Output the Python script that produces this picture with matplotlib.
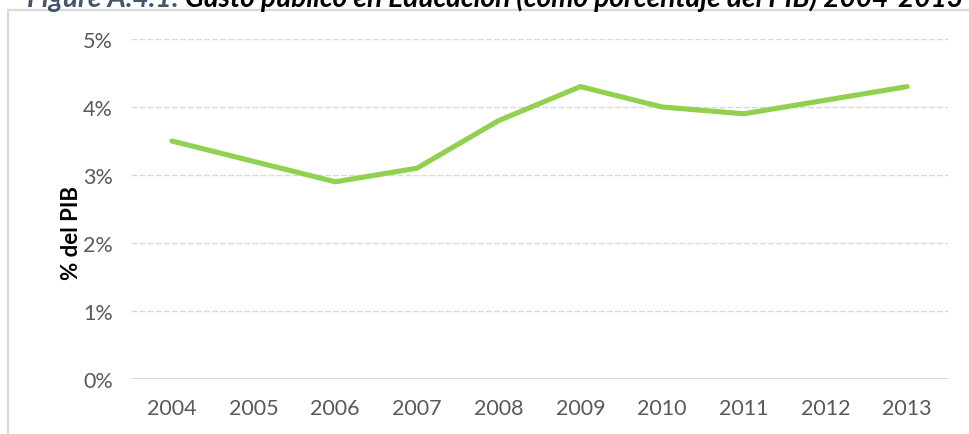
import matplotlib
matplotlib.use("Agg")
import matplotlib.pyplot as plt
from matplotlib.patches import Rectangle
from matplotlib.ticker import FuncFormatter

# Data
years = ["2004", "2005", "2006", "2007", "2008", "2009", "2010", "2011", "2012", "2013"]
gasto_pct = [3.5, 3.2, 2.9, 3.1, 3.8, 4.3, 4.0, 3.9, 4.1, 4.3]
y_ticks = [0, 1, 2, 3, 4, 5]

title_prefix = "Figure A.4.1: "
title_rest = "Gasto público en Educación (como porcentaje del PIB) 2004-2013"
y_label = "% del PIB"

W, H, DPI = 970, 435, 100
fig = plt.figure(figsize=(W / DPI, H / DPI), dpi=DPI)

# Plot area in pixels (left, top, right, bottom)
left, top, right, bottom = 131, 40, 948, 380
ax = fig.add_axes([left / W, 1 - bottom / H, (right - left) / W, (bottom - top) / H])

x = list(range(len(years)))
ax.plot(x, gasto_pct, color="#92D050", linewidth=3.7, solid_capstyle="round",
        solid_joinstyle="round", zorder=3)

ax.set_xlim(-0.5, len(years) - 0.5)
ax.set_ylim(0, 5)
ax.set_xticks(x)
ax.set_xticklabels(years)
ax.set_yticks(y_ticks)
ax.yaxis.set_major_formatter(FuncFormatter(lambda v, _: f"{v:.0f}%"))

for v in y_ticks[1:]:
    ax.axhline(v, color="#D9D9D9", linewidth=1.0, linestyle=(0, (4.3, 1.5)), zorder=1)
ax.axhline(0, color="#D9D9D9", linewidth=1.4, zorder=1)

for s in ax.spines.values():
    s.set_visible(False)
ax.tick_params(axis="both", length=0, labelsize=15.5, labelcolor="#595959")
ax.tick_params(axis="x", pad=14)
ax.tick_params(axis="y", pad=13)
for lab in ax.get_xticklabels() + ax.get_yticklabels():
    lab.set_fontfamily("Lato")

fig.text(71 / W, 1 - 233 / H, y_label, rotation=90, ha="center", va="center",
         fontsize=16, fontweight="bold", fontfamily="Lato", color="black")

# Chart frame (continues past the right and bottom edges)
fig.patches.append(Rectangle((8.5 / W, -0.1), 1.2, 1 - 10.5 / H + 0.1,
                             transform=fig.transFigure, fill=False,
                             edgecolor="#D9D9D9", linewidth=1.6))

# Title, cut off at the top of the image
renderer = fig.canvas.get_renderer()
base_y = 1 - 7 / H
fs = 16
t1 = fig.text(27 / W, base_y, title_prefix, fontsize=fs, fontweight="bold",
              fontstyle="italic", fontfamily="Lato", color="#44546A", va="baseline")
t2 = fig.text(0, base_y, title_rest, fontsize=fs, fontweight="bold",
              fontstyle="italic", fontfamily="Lato", color="black", va="baseline")
w_total = t1.get_window_extent(renderer).width + t2.get_window_extent(renderer).width
fs = fs * (963 - 27) / w_total
t1.set_fontsize(fs)
t2.set_fontsize(fs)
w1 = t1.get_window_extent(renderer).width
t2.set_x((27 + w1) / W)

fig.savefig("out.png", dpi=DPI)
